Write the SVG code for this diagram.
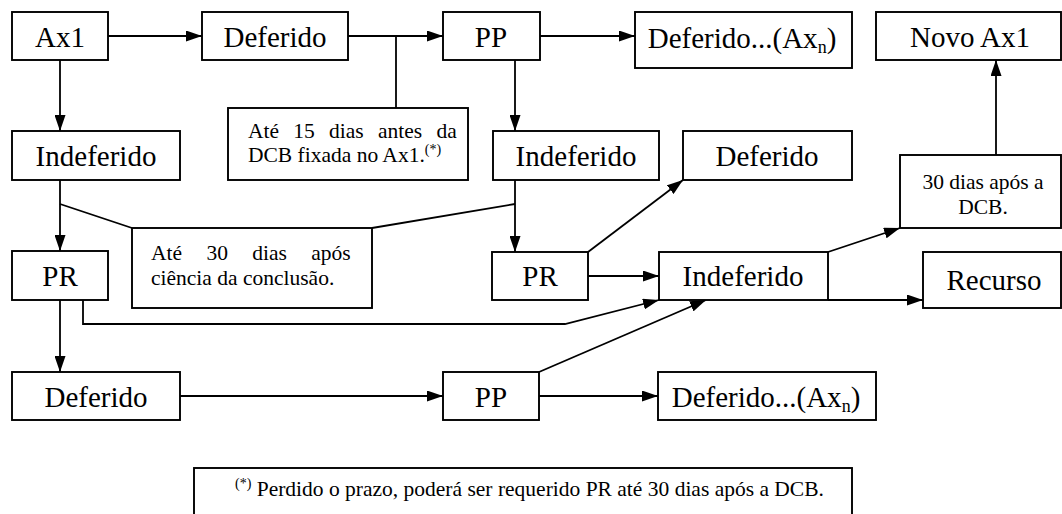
<svg xmlns="http://www.w3.org/2000/svg" width="1062" height="514" viewBox="0 0 1062 514">
<style>
.box{fill:#fff;stroke:#000;stroke-width:1.9}
.big{font-size:29px;text-anchor:middle}
.sm{font-size:21.5px}
.ln{fill:none;stroke:#000;stroke-width:1.8}
.ar{fill:none;stroke:#000;stroke-width:1.8;marker-end:url(#ah)}
</style>
<defs>
<marker id="ah" markerUnits="userSpaceOnUse" markerWidth="16" markerHeight="11" refX="16" refY="5.5" orient="auto">
<path d="M0,0 L16,5.5 L0,11 z" fill="#000"/>
</marker>
</defs>
<rect width="1062" height="514" fill="#fff"/>
<g id="connectors">
<line class="ar" x1="108" y1="36" x2="202" y2="36"/>
<line class="ar" x1="348" y1="36" x2="443" y2="36"/>
<line class="ln" x1="396" y1="36" x2="396" y2="108"/>
<line class="ar" x1="540" y1="36" x2="635" y2="36"/>
<line class="ar" x1="60" y1="60" x2="60" y2="131"/>
<line class="ar" x1="60" y1="180" x2="60" y2="251"/>
<line class="ln" x1="60" y1="204" x2="132" y2="228"/>
<line class="ar" x1="515" y1="60" x2="515" y2="131"/>
<line class="ar" x1="515" y1="180" x2="515" y2="252"/>
<line class="ln" x1="515" y1="204" x2="372" y2="228"/>
<line class="ar" x1="588" y1="252" x2="683" y2="180"/>
<line class="ar" x1="588" y1="276" x2="659" y2="276"/>
<polyline class="ar" points="83,300 83,324 565,324 659,300"/>
<line class="ar" x1="539" y1="372" x2="706" y2="300"/>
<line class="ar" x1="828" y1="252" x2="900" y2="228"/>
<line class="ar" x1="996" y1="155" x2="996" y2="60"/>
<line class="ar" x1="828" y1="300" x2="923" y2="300"/>
<line class="ar" x1="60" y1="300" x2="60" y2="372"/>
<line class="ar" x1="180" y1="396" x2="443" y2="396"/>
<line class="ar" x1="539" y1="396" x2="658" y2="396"/>
</g>
<g id="nodes" font-family="Liberation Serif, DejaVu Serif, serif" fill="#000">
<g id="ax1"><rect class="box" x="12" y="12" width="96" height="48"/><text class="big" x="60" y="47">Ax1</text></g>
<g id="deferido1"><rect class="box" x="202" y="12" width="146" height="48"/><text class="big" x="275" y="47">Deferido</text></g>
<g id="pp1"><rect class="box" x="443" y="12" width="97" height="48"/><text class="big" x="491" y="47">PP</text></g>
<g id="deferidoAxn1"><rect class="box" x="635" y="12" width="217" height="56"/><text class="big" x="742" y="48">Deferido...(Ax<tspan font-size="18" dy="5">n</tspan><tspan dy="-5">)</tspan></text></g>
<g id="novoAx1"><rect class="box" x="876" y="12" width="185" height="48"/><text class="big" x="970" y="47">Novo Ax1</text></g>
<g id="nota15"><rect class="box" x="228" y="108" width="240" height="72"/>
<text class="sm" x="248" y="138" word-spacing="8.9">Até 15 dias antes da</text>
<text class="sm" x="248" y="162">DCB fixada no Ax1.<tspan font-size="14" dy="-8">(*)</tspan></text></g>
<g id="indeferido1"><rect class="box" x="12" y="131" width="168" height="49"/><text class="big" x="96" y="166">Indeferido</text></g>
<g id="indeferido2"><rect class="box" x="493" y="131" width="166" height="49"/><text class="big" x="576" y="166">Indeferido</text></g>
<g id="deferido2"><rect class="box" x="683" y="131" width="169" height="49"/><text class="big" x="767" y="166">Deferido</text></g>
<g id="nota30dcb"><rect class="box" x="900" y="155" width="161" height="73"/>
<text class="sm" x="983" y="189" text-anchor="middle">30 dias após a</text>
<text class="sm" x="983" y="214" text-anchor="middle">DCB.</text></g>
<g id="pr1"><rect class="box" x="12" y="251" width="96" height="49"/><text class="big" x="60" y="286">PR</text></g>
<g id="nota30"><rect class="box" x="132" y="228" width="240" height="80"/>
<text class="sm" x="151" y="260" word-spacing="19">Até 30 dias após</text>
<text class="sm" x="151" y="285">ciência da conclusão.</text></g>
<g id="pr2"><rect class="box" x="492" y="252" width="96" height="48"/><text class="big" x="540" y="286">PR</text></g>
<g id="indeferido3"><rect class="box" x="659" y="252" width="169" height="48"/><text class="big" x="743" y="286">Indeferido</text></g>
<g id="recurso"><rect class="box" x="923" y="252" width="138" height="56"/><text class="big" x="994" y="290">Recurso</text></g>
<g id="deferido3"><rect class="box" x="12" y="372" width="168" height="48"/><text class="big" x="96" y="407">Deferido</text></g>
<g id="pp2"><rect class="box" x="443" y="372" width="96" height="48"/><text class="big" x="491" y="407">PP</text></g>
<g id="deferidoAxn2"><rect class="box" x="658" y="372" width="218" height="48"/><text class="big" x="766" y="407">Deferido...(Ax<tspan font-size="18" dy="5">n</tspan><tspan dy="-5">)</tspan></text></g>
<g id="rodape"><rect class="box" x="194" y="468" width="658" height="60"/>
<text class="sm" x="235" y="496"><tspan font-size="14" dy="-8">(*)</tspan><tspan dy="8"> Perdido o prazo, poderá ser requerido PR até 30 dias após a DCB.</tspan></text></g>
</g>
</svg>
